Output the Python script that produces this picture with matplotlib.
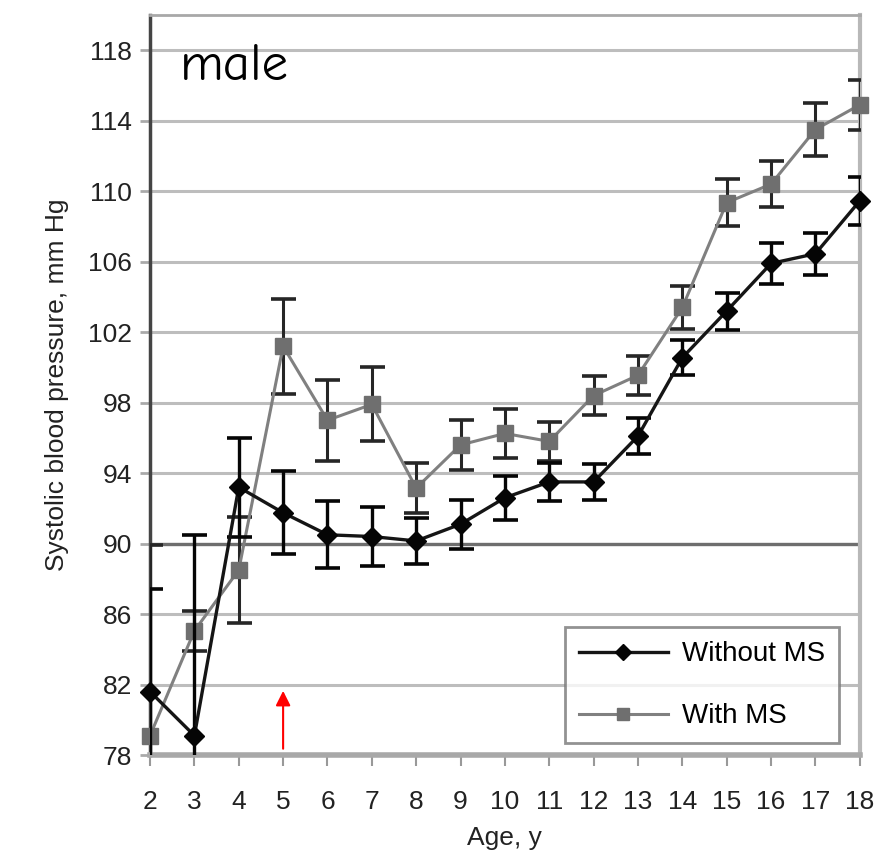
import numpy as np
import matplotlib
matplotlib.use("Agg")
import matplotlib.pyplot as plt
from matplotlib.lines import Line2D

# datos
ages = [2, 3, 4, 5, 6, 7, 8, 9, 10, 11, 12, 13, 14, 15, 16, 17, 18]
without_ms = [81.6, 79.1, 93.2, 91.75, 90.5, 90.4, 90.15, 91.1, 92.6, 93.5,
              93.5, 96.1, 100.55, 103.2, 105.9, 106.45, 109.45]
without_err = [5.85, 11.4, 2.8, 2.35, 1.9, 1.7, 1.3, 1.4, 1.25, 1.1,
               1.0, 1.0, 1.0, 1.05, 1.15, 1.2, 1.35]
with_ms = [79.1, 85.05, 88.5, 101.2, 97.0, 97.9, 93.15, 95.6, 96.25, 95.8,
           98.4, 99.55, 103.4, 109.35, 110.4, 113.5, 114.9]
with_err = [10.8, 1.15, 3.0, 2.7, 2.3, 2.1, 1.4, 1.4, 1.4, 1.1,
            1.1, 1.1, 1.2, 1.35, 1.3, 1.5, 1.4]
yticks = list(range(78, 119, 4))
arrow_age = 5
arrow_from, arrow_to = 78.2, 81.8

plt.rcParams['font.family'] = ['Liberation Sans', 'DejaVu Sans']

fig = plt.figure(figsize=(8.8, 8.57), dpi=100)
ax = fig.add_axes([0.1705, 0.119, 0.8065, 0.8635])

# rejilla
for v in yticks[1:]:
    ax.axhline(v, color='#bdbdbd', lw=2.2, zorder=0)
ax.axhline(90, color='#6e6e6e', lw=2.4, zorder=0)

# barras de error (recortadas por los ejes)
ax.errorbar(ages, with_ms, yerr=with_err, fmt='none', ecolor='#262626',
            elinewidth=2.2, capsize=9, capthick=2.6, zorder=3)
ax.errorbar(ages, without_ms, yerr=without_err, fmt='none', ecolor='#050505',
            elinewidth=2.4, capsize=9, capthick=2.6, zorder=4)
# lineas y marcadores
ax.plot(ages, with_ms, color='#808080', lw=2.2, marker='s', markersize=12,
        markerfacecolor='#6f6f6f', markeredgecolor='#6f6f6f', clip_on=False,
        zorder=3.5)
ax.plot(ages, without_ms, color='#151515', lw=2.4, marker='D', markersize=10,
        markerfacecolor='#050505', markeredgecolor='#050505', clip_on=False,
        zorder=4.5)

ax.set_xlim(2, 18)
ax.set_ylim(78, 120)
ax.set_yticks(yticks)
ax.set_xticks(ages)
ax.tick_params(axis='y', length=7, width=2, color='#aaaaaa', labelsize=19,
               pad=6, labelcolor='#222222')
ax.tick_params(axis='x', length=8, width=1.5, color='#999999', labelsize=19,
               pad=17, labelcolor='#222222')

ax.spines['left'].set_color('#444444')
ax.spines['left'].set_linewidth(2.5)
ax.spines['bottom'].set_color('#a8a8a8')
ax.spines['bottom'].set_linewidth(4)
ax.spines['top'].set_color('#a8a8a8')
ax.spines['top'].set_linewidth(2)
ax.spines['right'].set_color('#b8b8b8')
ax.spines['right'].set_linewidth(3)

ax.set_xlabel('Age, y', fontsize=19, color='#222222', labelpad=9)
ax.set_ylabel('Systolic blood pressure, mm Hg', fontsize=19, color='#222222',
              labelpad=14)

ax.text(0.042, 0.93, 'male', transform=ax.transAxes, fontsize=38,
        ha='left', va='center', family=['Comic Neue', 'DejaVu Sans'])

# flecha roja
ax.annotate('', xy=(arrow_age, arrow_to), xytext=(arrow_age, arrow_from),
            arrowprops=dict(arrowstyle='-|>', color='red', lw=1.5,
                            mutation_scale=22))

handles = [
    Line2D([], [], color='#151515', lw=2.4, marker='D', markersize=8,
           markerfacecolor='#050505', markeredgecolor='#050505'),
    Line2D([], [], color='#808080', lw=2.2, marker='s', markersize=9,
           markerfacecolor='#6f6f6f', markeredgecolor='#6f6f6f'),
]
leg = ax.legend(handles, ['Without MS', 'With MS'], loc='lower right',
                fontsize=20, frameon=True, fancybox=False,
                edgecolor='#777777', borderpad=0.5, labelspacing=1.3,
                handlelength=3.2, handletextpad=0.5,
                bbox_to_anchor=(0.99, -0.003))
leg.get_frame().set_linewidth(2)

fig.savefig('out.png', dpi=100)
